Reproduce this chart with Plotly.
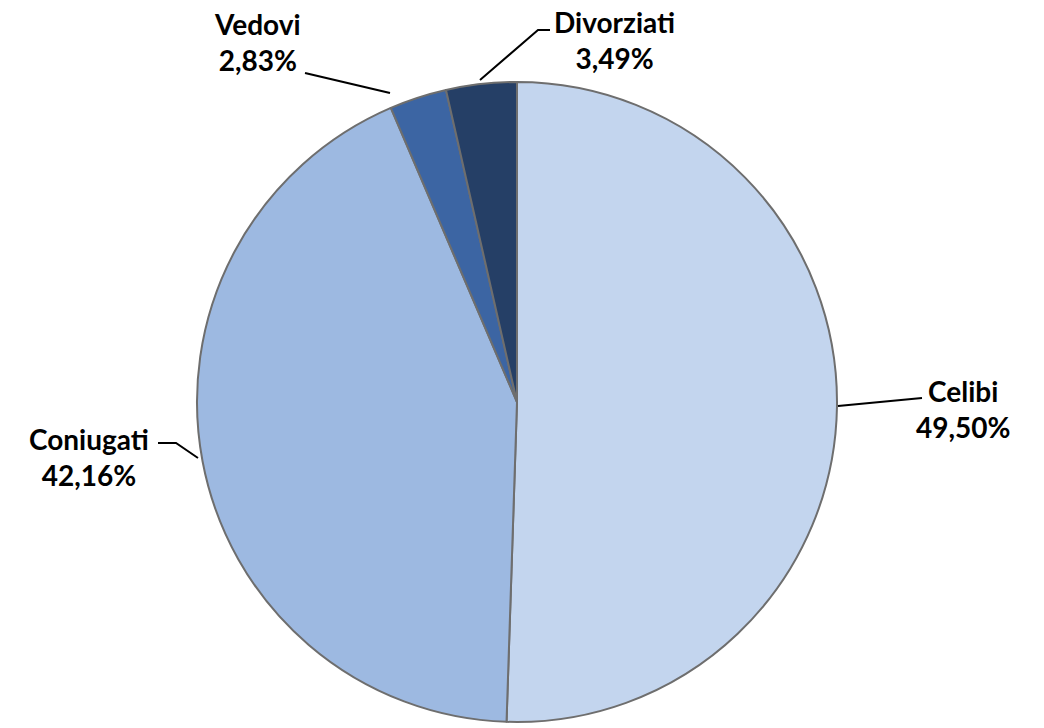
import plotly.graph_objects as go

categories = ["Celibi", "Coniugati", "Vedovi", "Divorziati"]
values = [49.50, 42.16, 2.83, 3.49]
colors = ["#C3D5EE", "#9DB9E1", "#3C65A3", "#253F66"]

W, H = 1044, 728
CX, CY, R = 517, 402, 320


def px(x):
    return x / W


def py(y):
    return 1 - y / H


fig = go.Figure()
fig.add_trace(go.Pie(
    labels=categories,
    values=values,
    sort=False,
    direction="clockwise",
    rotation=0,
    textinfo="none",
    hoverinfo="label+percent",
    marker=dict(colors=colors, line=dict(color="#6E6E6E", width=2)),
    domain=dict(x=[px(CX - R), px(CX + R)], y=[py(CY + R), py(CY - R)]),
    showlegend=False,
))

# label layout (pixel positions of text and leader-line paths)
label_layout = {
    "Celibi": dict(text_xy=(963, 409), path=[(838, 406), (922, 398)]),
    "Coniugati": dict(text_xy=(89, 457), path=[(198, 458), (176, 443), (158, 443)]),
    "Vedovi": dict(text_xy=(257, 42), path=[(390, 93), (305, 73)]),
    "Divorziati": dict(text_xy=(614, 40), path=[(480, 80), (538, 30), (550, 30)]),
}

font = dict(family="Lato, Carlito, 'Open Sans', sans-serif", size=28, color="#000000")

for cat, val in zip(categories, values):
    lay = label_layout[cat]
    tx, ty = lay["text_xy"]
    pct = f"{val:.2f}".replace(".", ",") + "%"
    fig.add_annotation(
        x=px(tx), y=py(ty), xref="paper", yref="paper",
        text=f"<b>{cat}</b><br><b>{pct}</b>",
        showarrow=False, font=font, align="center",
        xanchor="center", yanchor="middle",
    )
    pts = lay["path"]
    d = "M " + " L ".join(f"{px(x)},{py(y)}" for x, y in pts)
    fig.add_shape(type="path", path=d, xref="paper", yref="paper",
                  line=dict(color="#000000", width=2))

fig.update_layout(
    width=W, height=H,
    margin=dict(l=0, r=0, t=0, b=0),
    paper_bgcolor="#FFFFFF",
    plot_bgcolor="#FFFFFF",
)

fig.write_html(
    "out.html",
    config={"displayModeBar": False},
    post_script="document.body.style.margin='0';document.body.style.overflow='hidden';",
)
